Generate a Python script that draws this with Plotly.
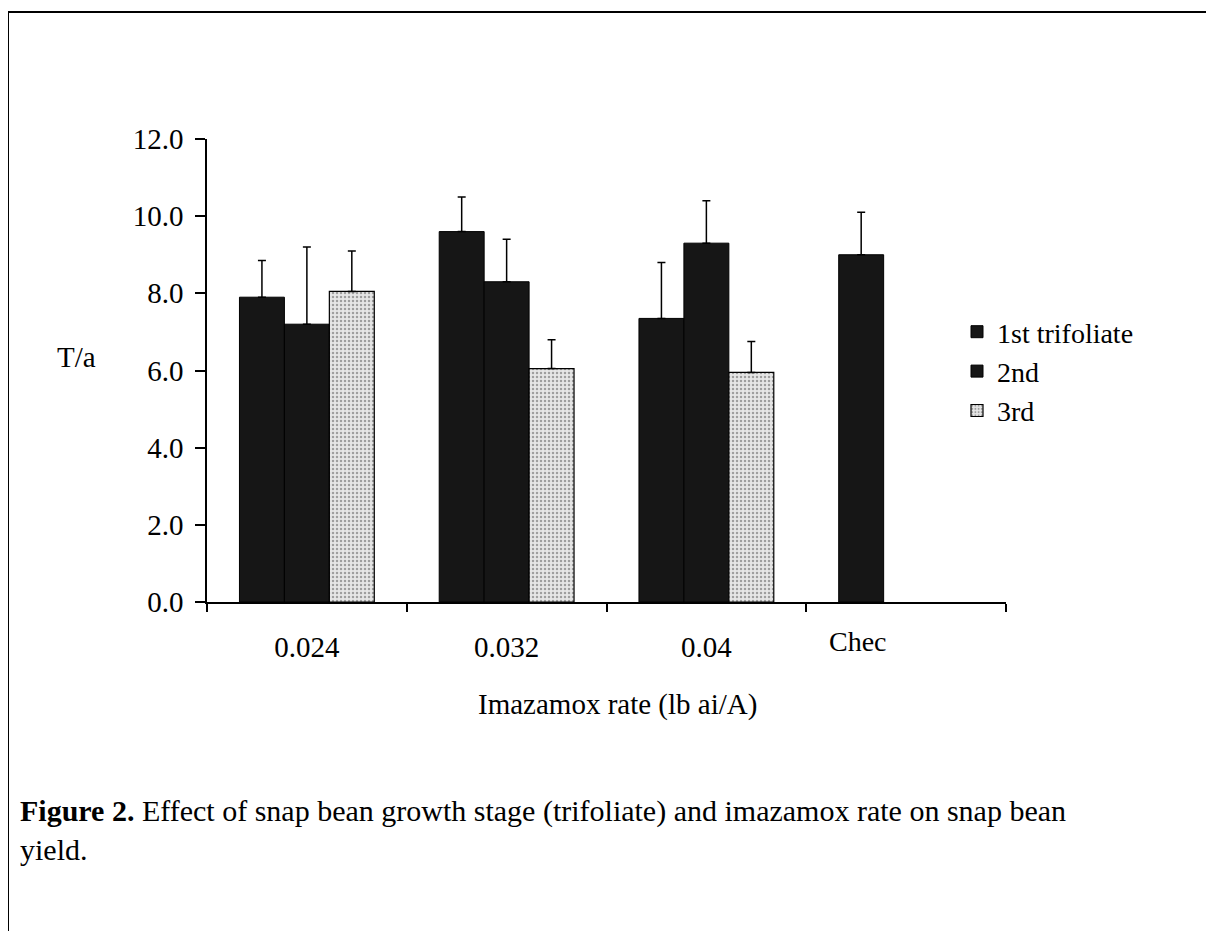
import plotly.graph_objects as go

categories = ["0.024", "0.032", "0.04", "Chec"]
tick_labels = ["0.024", "0.032", "0.04", ""]
series_names = ["1st trifoliate", "2nd", "3rd"]

first_vals = [7.9, 9.6, 7.35, 9.0]
first_err_top = [8.85, 10.5, 8.8, 10.1]
second_vals = [7.2, 8.3, 9.3, None]
second_err_top = [9.2, 9.4, 10.4, None]
third_vals = [8.05, 6.05, 5.95, None]
third_err_top = [9.1, 6.8, 6.75, None]

def plus(vals, tops):
    return [None if v is None else t - v for v, t in zip(vals, tops)]

FONT = "Liberation Serif"
fig = go.Figure()

err_style = dict(type="data", symmetric=False, color="black", thickness=1.5, width=4)

fig.add_trace(go.Bar(
    x=categories, y=first_vals, name=series_names[0],
    marker=dict(color="#161616", line=dict(color="black", width=1)),
    error_y=dict(array=plus(first_vals, first_err_top), arrayminus=[0]*4, **err_style),
))
fig.add_trace(go.Bar(
    x=categories, y=second_vals, name=series_names[1],
    marker=dict(color="#161616", line=dict(color="black", width=1)),
    error_y=dict(array=plus(second_vals, second_err_top), arrayminus=[0]*4, **err_style),
))
fig.add_trace(go.Bar(
    x=categories, y=third_vals, name=series_names[2],
    marker=dict(color="#e6e6e6", line=dict(color="black", width=1.2),
                pattern=dict(shape=".", fgcolor="#555555", bgcolor="#e6e6e6", size=4, solidity=0.3)),
    error_y=dict(array=plus(third_vals, third_err_top), arrayminus=[0]*4, **err_style),
))

OFF = 8  # page body margin
L, R, T, B = 207 - OFF, 1006 - OFF, 139 - OFF, 602 - OFF
W, H = 1214 - OFF, 931 - OFF
pw, ph = R - L, B - T

def px(x):
    return (x - OFF - L) / pw

def py(y):
    return (B - (y - OFF)) / ph

fig.update_layout(
    width=W, height=H,
    margin=dict(l=L, r=W - R, t=T, b=H - B, pad=0),
    paper_bgcolor="white", plot_bgcolor="white",
    barmode="group", bargap=0.325, bargroupgap=0,
    font=dict(family=FONT, size=29, color="black"),
    showlegend=True,
    legend=dict(x=px(957), y=py(307), xanchor="left", yanchor="top",
                font=dict(family=FONT, size=28, color="black"),
                bgcolor="rgba(0,0,0,0)", tracegroupgap=0, itemwidth=30),
    xaxis=dict(
        type="category", showline=True, linecolor="black", linewidth=1.5,
        ticks="outside", tickson="boundaries", ticklen=8, tickcolor="black", tickwidth=1.5,
        tickvals=categories, ticktext=tick_labels, ticklabelstandoff=18,
        tickfont=dict(family=FONT, size=29, color="black"),
        showgrid=False, zeroline=False,
    ),
    yaxis=dict(
        range=[0, 12], dtick=2, tickformat=".1f", showline=True, linecolor="black",
        linewidth=1.5, ticks="outside", ticklen=10, tickcolor="black", tickwidth=1.5,
        tickfont=dict(family=FONT, size=29, color="black"), ticklabelstandoff=6,
        showgrid=False, zeroline=False,
    ),
)

ann_common = dict(xref="paper", yref="paper", showarrow=False, yanchor="middle")
ann = [
    dict(text="Chec", x=px(858), y=py(641), xanchor="center",
         font=dict(family=FONT, size=28), **ann_common),
    dict(text="Imazamox rate (lb ai/A)", x=px(617), y=py(704), xanchor="center",
         font=dict(family=FONT, size=29), **ann_common),
    dict(text="T/a", x=px(76), y=py(357), xanchor="center",
         font=dict(family=FONT, size=29), **ann_common),
    dict(text="<b>Figure 2.</b> Effect of snap bean growth stage (trifoliate) and imazamox rate on snap bean",
         x=px(18), y=py(811), xanchor="left",
         font=dict(family=FONT, size=30), **ann_common),
    dict(text="yield.", x=px(18), y=py(849), xanchor="left",
         font=dict(family=FONT, size=30), **ann_common),
]
fig.update_layout(annotations=ann)

fig.add_shape(type="line", xref="paper", yref="paper", x0=px(8), x1=px(1214),
              y0=py(12), y1=py(12), line=dict(color="black", width=2))
fig.add_shape(type="line", xref="paper", yref="paper", x0=px(8), x1=px(8),
              y0=py(12), y1=py(931), line=dict(color="black", width=2))

fig.write_html("out.html")
